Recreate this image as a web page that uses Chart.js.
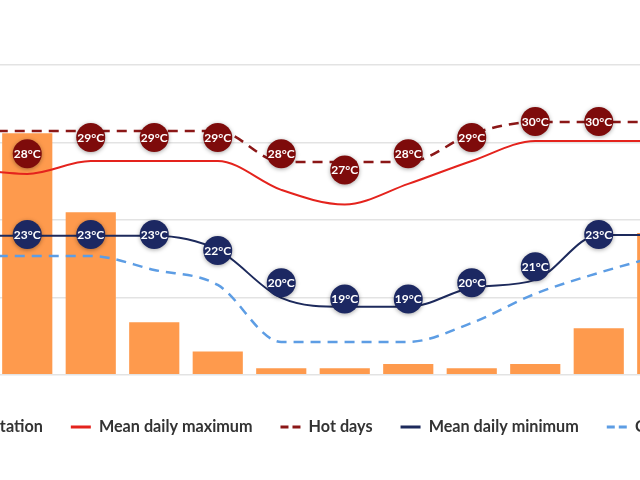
<!DOCTYPE html>
<html>
<head>
<meta charset="utf-8">
<title>Climate chart</title>
<script src="https://cdn.jsdelivr.net/npm/chart.js@4.4.0/dist/chart.umd.min.js"></script>
<style>
  html, body { margin: 0; padding: 0; background: #fff; width: 640px; height: 480px; overflow: hidden; }
  /* the chart is wider than the window, Jan and Dec fall outside like in the picture */
  #wrap { position: absolute; left: -114px; top: 0; width: 866px; height: 480px; }
</style>
</head>
<body>
<div id="wrap"><canvas id="climateChart"></canvas></div>
<script>
// data (Jan and part of Dec are outside the frame, guessed)
const months = ['Jan', 'Feb', 'Mar', 'Apr', 'May', 'Jun', 'Jul', 'Aug', 'Sep', 'Oct', 'Nov', 'Dec'];
const precipitation = [150, 156, 105, 34, 15, 4.3, 4.3, 6.9, 4.3, 6.9, 30, 91.6];
const meanDailyMax = [27.1, 26.75, 27.55, 27.55, 27.55, 25.76, 24.86, 26.13, 27.55, 28.79, 28.79, 28.79];
const hotDays = [29.41, 29.41, 29.41, 29.41, 29.41, 27.49, 27.49, 27.49, 29.23, 29.97, 29.97, 29.97];
const meanDailyMin = [22.91, 22.91, 22.91, 22.91, 22.04, 19.07, 18.51, 18.51, 19.69, 20.18, 22.97, 22.97];
const coldNights = [21.67, 21.67, 21.67, 20.8, 19.87, 16.34, 16.34, 16.34, 17.52, 19.32, 20.62, 21.73];
// the round badges with the temperature written in them
const maxBubble = [28, 28, 29, 29, 29, 28, 27, 28, 29, 30, 30, 30];
const minBubble = [23, 23, 23, 23, 22, 20, 19, 19, 20, 21, 23, 23];

const FONT = 'Lato, "Noto Sans", sans-serif';

// shadow under the badges and the °C text on top of them
const bubbleText = {
    id: 'bubbleText',
    beforeDatasetDraw(chart, args) {
        if (!chart.data.datasets[args.index].isBubble) return;
        const ctx = chart.ctx;
        ctx.save();
        ctx.shadowColor = 'rgba(0,0,0,0.35)';
        ctx.shadowBlur = 4;
        ctx.shadowOffsetY = 1;
    },
    afterDatasetDraw(chart, args) {
        const ds = chart.data.datasets[args.index];
        if (!ds.isBubble) return;
        const ctx = chart.ctx;
        ctx.restore();
        ctx.save();
        ctx.fillStyle = '#fff';
        ctx.font = 'bold 12px ' + FONT;
        ctx.textAlign = 'center';
        ctx.textBaseline = 'middle';
        args.meta.data.forEach((pt, i) => {
            ctx.fillText(ds.data[i] + '°C', pt.x, pt.y + 0.5);
        });
        ctx.restore();
    }
};

// legend items with line samples (dashed where the series is dashed)
function legendItems(chart) {
    return chart.data.datasets
        .map((ds, i) => ({ ds, i }))
        .filter(o => !o.ds.isBubble)
        .map(({ ds, i }) => {
            const isBar = ds.type === 'bar';
            return {
                text: ds.label,
                datasetIndex: i,
                fontColor: '#333',
                pointStyle: isBar ? 'rect' : 'line',
                fillStyle: isBar ? ds.backgroundColor : 'transparent',
                strokeStyle: isBar ? ds.backgroundColor : ds.borderColor,
                lineWidth: isBar ? 0 : 3,
                lineDash: ds.borderDash && ds.borderDash.length ? [8, 4] : [],
                hidden: false
            };
        });
}

function lineSet(label, data, color, dash, width) {
    return {
        type: 'line',
        label,
        data,
        yAxisID: 'temp',
        borderColor: color,
        backgroundColor: color,
        borderWidth: width,
        borderDash: dash,
        pointRadius: 0,
        pointHoverRadius: 0,
        fill: false,
        cubicInterpolationMode: 'monotone',
        order: 2
    };
}

function bubbleSet(data, color) {
    return {
        type: 'line',
        label: '',
        data,
        yAxisID: 'temp',
        isBubble: true,
        showLine: false,
        pointRadius: 14.5,
        pointHoverRadius: 14.5,
        pointBackgroundColor: color,
        pointBorderWidth: 0,
        clip: false,
        order: 1
    };
}

const ctx = document.getElementById('climateChart').getContext('2d');
new Chart(ctx, {
    type: 'bar',
    data: {
        labels: months,
        datasets: [
            {
                type: 'bar',
                label: 'Precipitation',
                data: precipitation,
                yAxisID: 'precip',
                backgroundColor: '#fe9a4d',
                borderWidth: 0,
                barPercentage: 0.79,
                categoryPercentage: 1,
                order: 3
            },
            lineSet('Mean daily maximum', meanDailyMax, '#e4231d', [], 2),
            lineSet('Hot days', hotDays, '#8b1717', [10, 7], 2.5),
            lineSet('Mean daily minimum', meanDailyMin, '#1d2a5c', [], 2),
            lineSet('Cold nights', coldNights, '#5d9de4', [10, 7], 2.5),
            bubbleSet(maxBubble, '#7e0b0b'),
            bubbleSet(minBubble, '#1c2862')
        ]
    },
    options: {
        responsive: true,
        maintainAspectRatio: false,
        animation: false,
        layout: { padding: { top: 65, bottom: 35, left: 0, right: 0 } },
        plugins: {
            tooltip: { enabled: false },
            legend: {
                position: 'bottom',
                labels: {
                    usePointStyle: true,
                    pointStyleWidth: 20,
                    padding: 28,
                    color: '#333',
                    font: { family: FONT, size: 16.2, weight: 'bold' },
                    generateLabels: legendItems
                }
            }
        },
        scales: {
            x: {
                grid: { display: false },
                border: { display: false },
                ticks: { color: '#666', padding: 7, font: { family: FONT, size: 16 } },
                afterFit: s => { s.height = 16; }
            },
            temp: {
                position: 'left',
                min: 14.3,
                max: 33.5,
                grid: { display: false },
                border: { display: false },
                ticks: { display: false },
                afterFit: s => { s.width = 46; }
            },
            precip: {
                position: 'right',
                min: 0,
                max: 200,
                ticks: { display: false, stepSize: 50 },
                grid: { color: '#e3e3e3', lineWidth: 1.5, drawTicks: false },
                border: { display: false },
                afterFit: s => { s.width = 58; }
            }
        }
    },
    plugins: [bubbleText]
});
</script>
</body>
</html>
